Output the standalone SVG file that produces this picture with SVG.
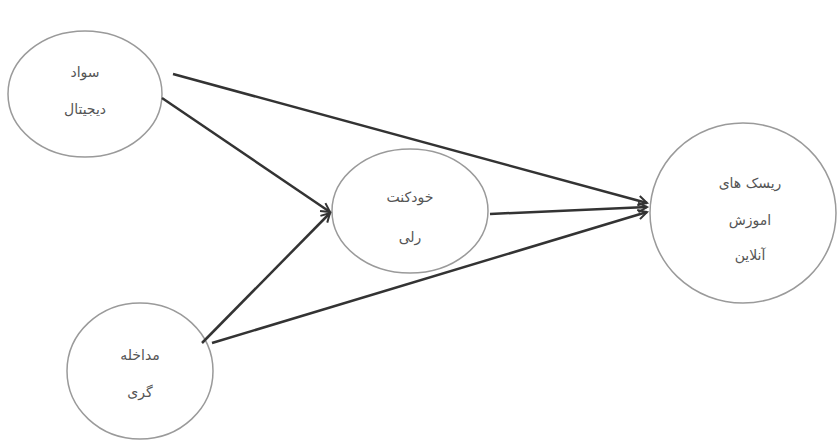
<svg xmlns="http://www.w3.org/2000/svg" width="838" height="441" viewBox="0 0 838 441">
<style>
.node ellipse{fill:#fff;stroke:#9a9a9a;stroke-width:1.5}
.node text{font-family:"DejaVu Sans","Noto Sans",sans-serif;font-size:14px;fill:#555;text-anchor:middle;direction:rtl}
.edge{stroke:#333;stroke-width:2.5;fill:none;marker-end:url(#arr)}
</style>
<defs>
<marker id="arr" viewBox="0 0 12 12" refX="11" refY="6" markerWidth="6" markerHeight="6" markerUnits="userSpaceOnUse" orient="auto" overflow="visible">
<path d="M0,0 L11,6 L0,12" fill="none" stroke="#333" stroke-width="2.5" transform="scale(1.6) translate(-4.1,-2.25)"/>
</marker>
</defs>
<rect width="838" height="441" fill="#fff"/>
<g id="n1" class="node"><ellipse cx="85" cy="94" rx="77" ry="63"/><text x="85" y="77">سواد</text><text x="85" y="114">دیجیتال</text></g>
<g id="n2" class="node"><ellipse cx="410" cy="211" rx="78" ry="62"/><text x="410" y="202">خودکنت</text><text x="410" y="242">رلی</text></g>
<g id="n3" class="node"><ellipse cx="743" cy="213" rx="93" ry="90"/><text x="750" y="188">ریسک های</text><text x="750" y="225">اموزش</text><text x="750" y="260">آنلاین</text></g>
<g id="n4" class="node"><ellipse cx="140" cy="371" rx="73" ry="68"/><text x="140" y="360">مداخله</text><text x="140" y="397">گری</text></g>
<g id="edges">
<line class="edge" x1="173" y1="74" x2="647" y2="203"/>
<line class="edge" x1="162" y1="98" x2="330" y2="212"/>
<line class="edge" x1="202" y1="343" x2="330" y2="213"/>
<line class="edge" x1="490" y1="214" x2="647" y2="207"/>
<line class="edge" x1="212" y1="343" x2="647" y2="212"/>
</g>
</svg>
